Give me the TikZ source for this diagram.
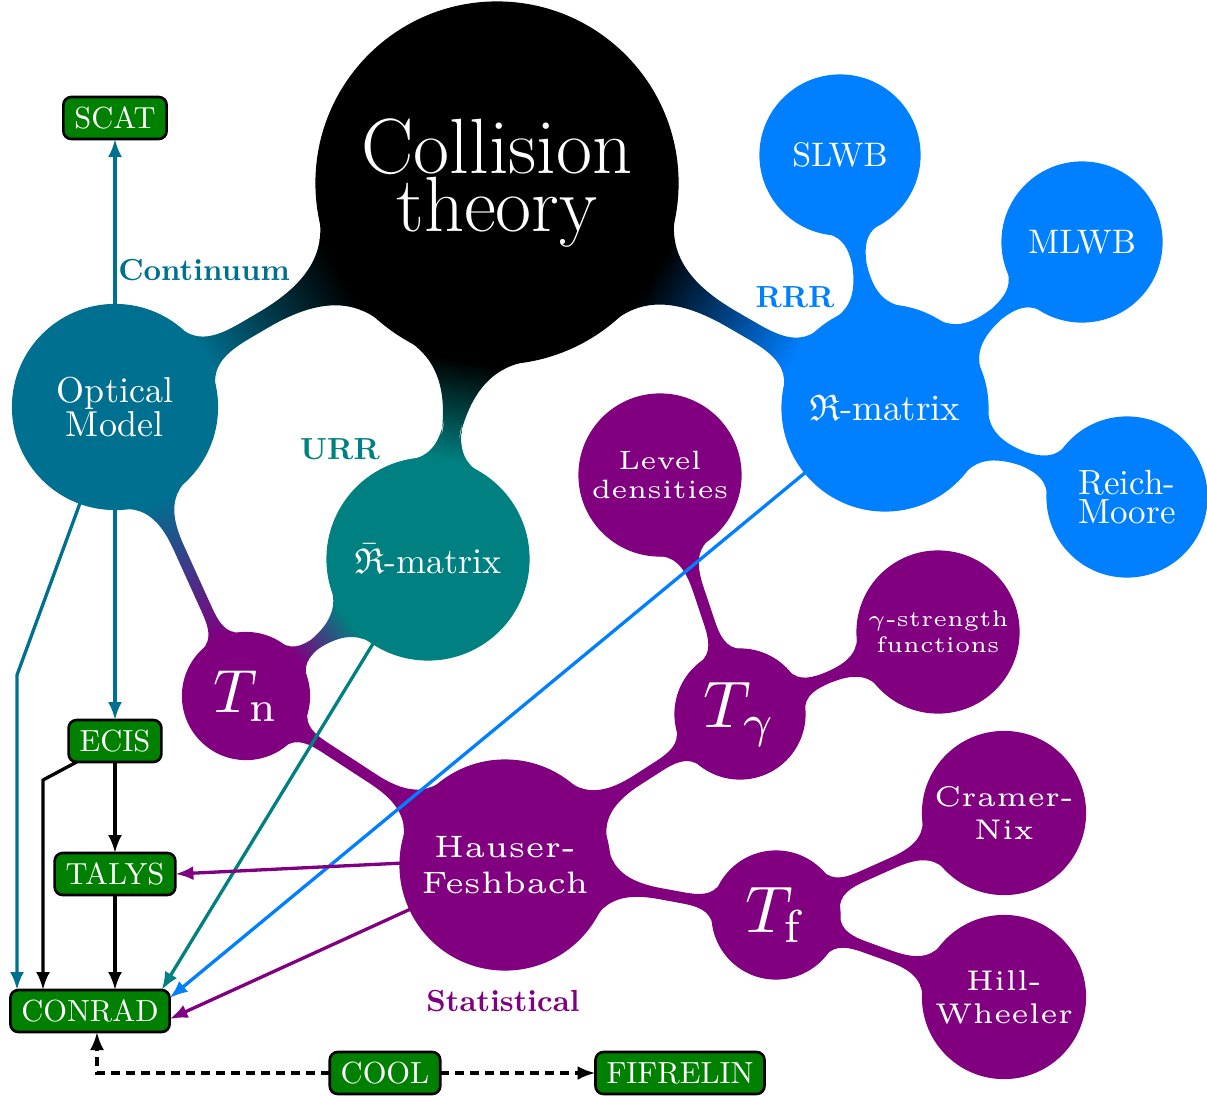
\documentclass[tikz,border=0pt]{standalone}
\usepackage{graphicx}
\usepackage{amssymb}
\usetikzlibrary{mindmap,arrows.meta}
\definecolor{omc}{RGB}{0,112,144}
\definecolor{urrc}{RGB}{0,128,128}
\definecolor{rrrc}{RGB}{0,128,255}
\definecolor{statc}{RGB}{128,0,128}
\definecolor{boxc}{RGB}{0,128,0}
\newcommand\ctxt[4]{\scalebox{#1}{\fontsize{#2}{#3}\selectfont #4}}
\newcommand\ctxtt[5]{\scalebox{#1}{\fontsize{#2}{#3}\selectfont\lineskiplimit=-100pt\relax\lineskip=0pt\relax\vbox{\halign{\hfil##\hfil\cr #4\cr #5\cr}}}}
\tikzset{
  cc/.style 2 args={concept, concept color=#1, minimum size=#2, text width=, inner sep=0pt, text=white},
  cbar/.style 2 args={circle connection bar switch color=from (#1) to (#2)},
  lbl/.style={inner sep=0pt, text width=, minimum size=0pt},
  box/.style={draw=black, line width=2.6pt, fill=boxc, rounded corners=8pt, text width=, minimum width=0pt, minimum height=42pt, inner xsep=11pt, inner ysep=0pt, text=white},
  arr/.style={line width=3.3pt, -{Latex[length=18pt,width=14pt]}},
  dsh/.style={dash pattern=on 9pt off 6pt},
}
\begin{document}
\begin{tikzpicture}[mindmap, x=1pt, y=1pt]
\useasboundingbox (0,0) rectangle (1207,-1095);
% concepts
\node[cc={black}{362pt}] (root) at (497,-183) {\ctxtt{3.15}{24.88}{18.6}{Collision}{theory}};
\node[cc={omc}{205pt}] (om) at (115,-407) {\ctxtt{3.6}{10}{9.7}{Optical}{Model}};
\node[cc={rrrc}{206pt}] (rm) at (885,-408) {\ctxt{3.7}{10}{12}{$\mathfrak{R}$-matrix}};
\node[cc={urrc}{202pt}] (rbm) at (428,-559) {\ctxt{3.6}{10}{12}{$\bar{\mathfrak{R}}$-matrix}};
\node[cc={rrrc}{160pt}] (slwb) at (840,-155) {\ctxt{3.4}{10}{12}{SLWB}};
\node[cc={rrrc}{160pt}] (mlwb) at (1082,-242) {\ctxt{3.4}{10}{12}{MLWB}};
\node[cc={rrrc}{160pt}] (reich) at (1127,-497) {\ctxtt{3.5}{10}{8.4}{Reich-}{Moore}};
\node[cc={statc}{127pt}] (tn) at (246,-696) {\ctxt{6.1}{10}{12}{$T_{\mathrm{n}}$}};
\node[cc={statc}{210pt}] (hf) at (505,-865) {\ctxtt{6.2}{5}{5.8}{Hauser-}{Feshbach}};
\node[cc={statc}{130pt}] (tg) at (740,-714) {\ctxt{6.6}{10}{12}{$T_{\gamma}$}};
\node[cc={statc}{128pt}] (tf) at (776,-915) {\ctxt{6.6}{10}{12}{$T_{\mathrm{f}}$}};
\node[cc={statc}{162pt}] (ld) at (660,-475) {\ctxtt{5.3}{5}{5.5}{Level}{densities}};
\node[cc={statc}{162pt}] (gsf) at (938,-632) {\ctxtt{4.5}{5}{5.8}{$\gamma$-strength}{functions}};
\node[cc={statc}{163pt}] (cn) at (1004,-813) {\ctxtt{5.7}{5}{5.8}{Cramer-}{Nix}};
\node[cc={statc}{163pt}] (hw) at (1004,-997) {\ctxtt{5.7}{5}{5.8}{Hill-}{Wheeler}};
% connection bars
\path (root) to[cbar={black}{omc}] (om);
\path (root) to[cbar={black}{rrrc}] (rm);
\path (root) to[cbar={black}{urrc}] (rbm);
\path (om) to[cbar={omc}{statc}] (tn);
\path (rbm) to[cbar={urrc}{statc}] (tn);
\path (tn) to[cbar={statc}{statc}] (hf);
\path (hf) to[cbar={statc}{statc}] (tg);
\path (hf) to[cbar={statc}{statc}] (tf);
\path (tg) to[cbar={statc}{statc}] (ld);
\path (tg) to[cbar={statc}{statc}] (gsf);
\path (tf) to[cbar={statc}{statc}] (cn);
\path (tf) to[cbar={statc}{statc}] (hw);
\path (rm) to[cbar={rrrc}{rrrc}] (slwb);
\path (rm) to[cbar={rrrc}{rrrc}] (mlwb);
\path (rm) to[cbar={rrrc}{rrrc}] (reich);
% labels
\node[lbl, text=omc] (lcont) at (204,-270) {\ctxt{3.05}{10}{12}{\bfseries Continuum}};
\node[lbl, text=rrrc] (lrrr) at (795,-297) {\ctxt{3.05}{10}{12}{\bfseries RRR}};
\node[lbl, text=urrc] (lurr) at (340,-449) {\ctxt{3.05}{10}{12}{\bfseries URR}};
\node[lbl, text=statc] (lstat) at (503,-1001) {\ctxt{3.05}{10}{12}{\bfseries Statistical}};
% boxes
\node[box] (scat) at (115,-118) {\ctxt{3.05}{10}{12}{SCAT}};
\node[box] (ecis) at (115,-741) {\ctxt{3.05}{10}{12}{ECIS}};
\node[box] (talys) at (115,-874) {\ctxt{3.05}{10}{12}{TALYS}};
\node[box] (conrad) at (90,-1011) {\ctxt{3.05}{10}{12}{CONRAD}};
\node[box] (cool) at (385,-1073) {\ctxt{3.05}{10}{12}{COOL}};
\node[box] (fifrelin) at (680,-1073) {\ctxt{3.05}{10}{12}{FIFRELIN}};
% arrows
\coordinate (k1) at (17,-675);
\coordinate (k2) at (43,-780);
\draw[arr, omc] (om.north) -- (scat.south);
\draw[arr, omc] (om.south) -- (ecis.north);
\draw[arr, omc] (om.250) -- (k1) -- (k1 |- conrad.north);
\draw[arr] ([xshift=8pt]ecis.south west) -- (k2) -- (k2 |- conrad.north);
\draw[arr] (ecis) -- (talys);
\draw[arr] (talys.south) -- (talys.south |- conrad.north);
\draw[arr, urrc] (rbm.237) -- ([xshift=-8pt]conrad.north east);
\draw[arr, rrrc] (rm.219) -- ([yshift=-8pt]conrad.north east);
\draw[arr, statc] (hf.179) -- (talys.east);
\draw[arr, statc] (hf.205) -- ([yshift=-8pt]conrad.east);
\draw[arr, dsh] (cool.west) -| ([xshift=7pt]conrad.south);
\draw[arr, dsh] (cool.east) -- (fifrelin.west);
\end{tikzpicture}
\end{document}
